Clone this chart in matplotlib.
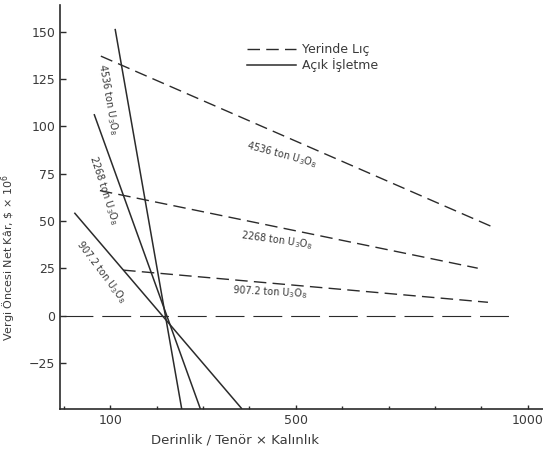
import matplotlib
matplotlib.use("Agg")
import matplotlib.pyplot as plt
from matplotlib.ticker import MultipleLocator, FixedLocator

# production sizes (ton U3O8)
tonnages = ["4536", "2268", "907.2"]

# in-situ leaching lines (Yerinde Liç): end points
leach_x = [[80, 922], [78, 892], [128, 914]]
leach_y = [[137, 47], [66, 25], [24, 7]]

# open pit lines (Açık İşletme): end points
pit_x = [[111, 254], [66, 294], [24, 383]]
pit_y = [[151, -49], [106, -49], [54, -49]]

# break-even line
zero_x = [0, 967]
zero_y = [0, 0]

# label anchors (data coords) and on-screen angles
leach_lbl_x = [470, 460, 445]
leach_lbl_y = [85, 40, 12.5]
leach_lbl_rot = [-15, -8, -3]
pit_lbl_x = [95, 87, 80]
pit_lbl_y = [114, 66, 23]
pit_lbl_rot = [-80, -72, -53]

yticks = [-25, 0, 25, 50, 75, 100, 125, 150]
xticks = [100, 500, 1000]

ink = "#2b2b2b"
txt = "#3a3a3a"
plt.rcParams["font.family"] = ["DejaVu Sans"]

fig = plt.figure(figsize=(5.43, 4.54), dpi=100)
ax = fig.add_axes([0.1105, 0.0985, 0.889, 0.8905])

for i in range(3):
    ax.plot(leach_x[i], leach_y[i], color=ink, lw=1.0, dashes=(9, 4.5),
            label="Yerinde Lıç" if i == 0 else None)
for i in range(3):
    ax.plot(pit_x[i], pit_y[i], color=ink, lw=1.1,
            label="Açık İşletme" if i == 0 else None)
ax.plot(zero_x, zero_y, color=ink, lw=0.8, dashes=(26, 8))

for i, t in enumerate(tonnages):
    s = t + " ton U$_3$O$_8$"
    ax.text(leach_lbl_x[i], leach_lbl_y[i], s, rotation=leach_lbl_rot[i],
            ha="center", va="center", rotation_mode="anchor",
            fontsize=7, color=txt)
    ax.text(pit_lbl_x[i], pit_lbl_y[i], s, rotation=pit_lbl_rot[i],
            ha="center", va="center", rotation_mode="anchor",
            fontsize=7, color=txt)

ax.set_xlim(-8, 1032)
ax.set_ylim(-49.5, 164)

ax.yaxis.set_major_locator(FixedLocator(yticks))
ax.xaxis.set_major_locator(FixedLocator(xticks))
ax.xaxis.set_minor_locator(MultipleLocator(100))
ax.tick_params(axis="both", which="both", direction="in", colors=ink,
               labelcolor=txt, labelsize=9)
ax.tick_params(axis="y", length=4, width=1)
ax.tick_params(axis="x", which="major", length=3, width=1)
ax.tick_params(axis="x", which="minor", length=2, width=1)

for side in ["top", "right"]:
    ax.spines[side].set_visible(False)
for side in ["left", "bottom"]:
    ax.spines[side].set_color(ink)
    ax.spines[side].set_linewidth(1.2)

ax.set_xlabel("Derinlik / Tenör × Kalınlık", fontsize=9.5, color=txt)
ax.xaxis.set_label_coords(0.362, -0.06)
ax.set_ylabel(r"Vergi Öncesi Net Kâr, \$ × 10$^6$", fontsize=8, color=txt)
ax.yaxis.set_label_coords(-0.086, 0.376)

leg = ax.legend(loc="upper left", bbox_to_anchor=(0.378, 0.918), frameon=False,
                fontsize=9, handlelength=3.9, handletextpad=0.5,
                labelspacing=0.15, borderaxespad=0)
for t in leg.get_texts():
    t.set_color(txt)

fig.savefig("out.png", dpi=100)
